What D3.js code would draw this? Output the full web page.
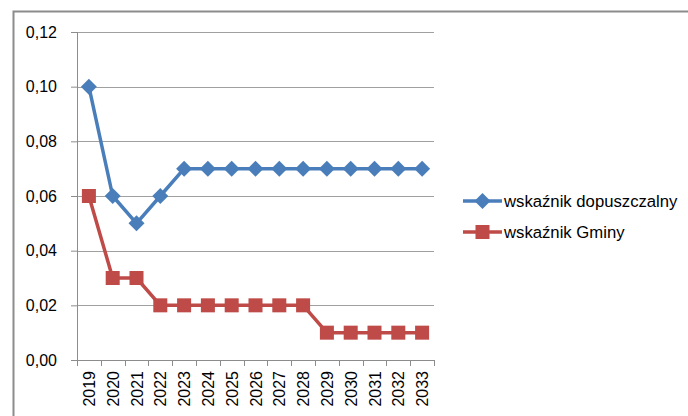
<!DOCTYPE html>
<html>
<head>
<meta charset="utf-8">
<script src="https://cdn.jsdelivr.net/npm/d3@7"></script>
<style>
  body { margin: 0; background: #fff; }
  svg { display: block; font-family: 'Liberation Sans', Arial, sans-serif; }
  .axis text { font-size: 16px; fill: #000; }
  .axis path, .axis line { stroke: #8c8c8c; }
  .grid line { stroke: #a0a0a0; }
</style>
</head>
<body>
<div id="chart"></div>
<script>
'use strict';

var years = [ '2019', '2020', '2021', '2022', '2023', '2024', '2025', '2026',
              '2027', '2028', '2029', '2030', '2031', '2032', '2033' ];
var dopuszczalny = [ 0.10, 0.06, 0.05, 0.06, 0.07, 0.07, 0.07, 0.07,
                     0.07, 0.07, 0.07, 0.07, 0.07, 0.07, 0.07 ];
var gminy = [ 0.06, 0.03, 0.03, 0.02, 0.02, 0.02, 0.02, 0.02,
              0.02, 0.02, 0.01, 0.01, 0.01, 0.01, 0.01 ];
var yTicks = [ 0, 0.02, 0.04, 0.06, 0.08, 0.10, 0.12 ];

var series = [
  { label: 'wskaźnik dopuszczalny', values: dopuszczalny, color: '#4a7ebb', marker: 'diamond' },
  { label: 'wskaźnik Gminy', values: gminy, color: '#be4b48', marker: 'square' }
];

var baseWidth = 688,
    baseHeight = 416,
    margin = { top: 32, right: 254, bottom: 56, left: 77 };

var width = baseWidth - margin.left - margin.right,
    height = baseHeight - margin.top - margin.bottom;

var svg = d3.select( '#chart' )
  .append( 'svg' )
    .attr( 'width', baseWidth )
    .attr( 'height', baseHeight );

// outer chart border (runs off the right and bottom edges)
svg.append( 'path' )
  .attr( 'd', 'M13.5,' + baseHeight + 'V11.5H' + baseWidth )
  .attr( 'fill', 'none' )
  .attr( 'stroke', '#8c8c8c' )
  .attr( 'stroke-width', 2 );

var g = svg.append( 'g' )
  .attr( 'transform', 'translate(' + margin.left + ',' + margin.top + ')' );

var x = d3.scaleBand()
  .domain( years )
  .range( [ 0, width ] );

var y = d3.scaleLinear()
  .domain( [ 0, 0.12 ] )
  .range( [ height, 0 ] );

// gridlines
g.append( 'g' )
  .classed( 'grid', true )
  .selectAll( 'line' )
  .data( yTicks.slice( 1 ) )
  .enter().append( 'line' )
    .attr( 'x1', 0 )
    .attr( 'x2', width )
    .attr( 'y1', function( d ) { return Math.round( y( d ) ) + 0.5; } )
    .attr( 'y2', function( d ) { return Math.round( y( d ) ) + 0.5; } );

// Y axis
var yAxis = g.append( 'g' )
  .classed( 'axis axis__y', true )
  .call( d3.axisLeft( y )
    .tickValues( yTicks )
    .tickSize( 6 )
    .tickPadding( 14 )
    .tickFormat( function( d ) { return d.toFixed( 2 ).replace( '.', ',' ); } )
  );
yAxis.select( '.domain' ).attr( 'd', 'M0.5,0V' + height );

// X axis, ticks between categories
var xAxis = g.append( 'g' )
  .classed( 'axis axis__x', true )
  .attr( 'transform', 'translate(0,' + height + ')' )
  .call( d3.axisBottom( x ).tickSize( 0 ).tickFormat( '' ) );
xAxis.select( '.domain' ).attr( 'd', 'M0,0.5H' + width );

xAxis.selectAll( 'line.sep' )
  .data( years.concat( [ null ] ) )
  .enter().append( 'line' )
    .classed( 'sep', true )
    .attr( 'x1', function( d, i ) { return Math.round( i * x.step() ) + 0.5; } )
    .attr( 'x2', function( d, i ) { return Math.round( i * x.step() ) + 0.5; } )
    .attr( 'y1', 0 )
    .attr( 'y2', 6 );

xAxis.selectAll( 'text.year' )
  .data( years )
  .enter().append( 'text' )
    .classed( 'year', true )
    .attr( 'text-anchor', 'end' )
    .attr( 'transform', function( d ) {
      return 'translate(' + ( x( d ) + x.bandwidth() / 2 + 6 ) + ',11) rotate(-90)';
    } )
    .text( function( d ) { return d; } );

// lines and markers
var line = d3.line()
  .x( function( d, i ) { return x( years[i] ) + x.bandwidth() / 2; } )
  .y( function( d ) { return y( d ); } );

function drawMarker( sel, type, color ) {
  if ( type === 'diamond' ) {
    sel.append( 'path' )
      .attr( 'd', 'M0,-8L8,0L0,8L-8,0Z' )
      .attr( 'fill', color );
  } else {
    sel.append( 'rect' )
      .attr( 'x', -7 ).attr( 'y', -7 )
      .attr( 'width', 14 ).attr( 'height', 14 )
      .attr( 'fill', color );
  }
}

series.forEach( function( s ) {
  g.append( 'path' )
    .attr( 'd', line( s.values ) )
    .attr( 'fill', 'none' )
    .attr( 'stroke', s.color )
    .attr( 'stroke-width', 3.5 )
    .attr( 'stroke-linejoin', 'round' );

  s.values.forEach( function( v, i ) {
    var m = g.append( 'g' )
      .attr( 'transform', 'translate(' + ( x( years[i] ) + x.bandwidth() / 2 ) + ',' + y( v ) + ')' );
    drawMarker( m, s.marker, s.color );
  } );
} );

// legend
var legend = svg.append( 'g' )
  .attr( 'transform', 'translate(463,201)' );

series.forEach( function( s, i ) {
  var item = legend.append( 'g' )
    .attr( 'transform', 'translate(0,' + ( i * 31 ) + ')' );
  item.append( 'line' )
    .attr( 'x1', 0 ).attr( 'x2', 39 )
    .attr( 'stroke', s.color )
    .attr( 'stroke-width', 3.5 );
  var m = item.append( 'g' ).attr( 'transform', 'translate(19.5,0)' );
  drawMarker( m, s.marker, s.color );
  item.append( 'text' )
    .attr( 'x', 41 )
    .attr( 'y', 6 )
    .style( 'font-size', '16.7px' )
    .text( s.label );
} );
</script>
</body>
</html>
